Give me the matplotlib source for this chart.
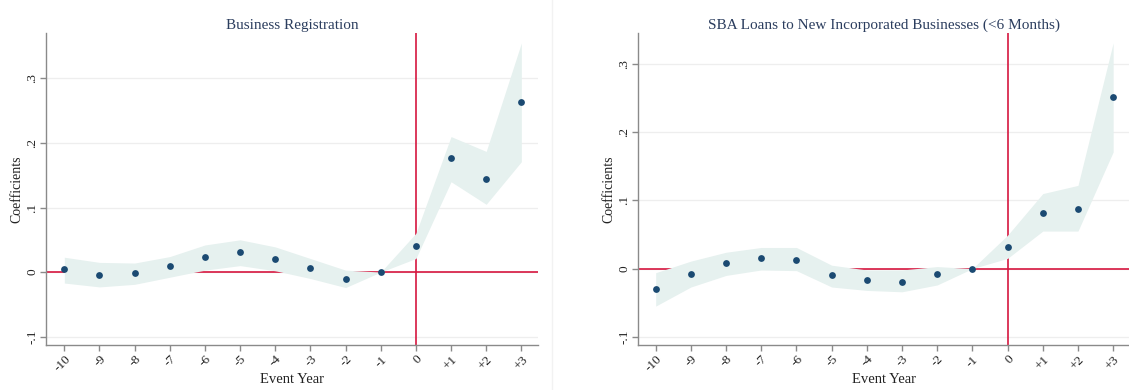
import matplotlib.pyplot as plt
from matplotlib.lines import Line2D

plt.rcParams['font.family'] = ['Liberation Serif', 'DejaVu Serif']

years = list(range(-10, 4))
year_labels = ['-10', '-9', '-8', '-7', '-6', '-5', '-4', '-3', '-2', '-1',
               '0', '+1', '+2', '+3']

# Business registration
reg_coef = [0.004, -0.004, -0.001, 0.009, 0.023, 0.031, 0.020, 0.007,
            -0.010, 0.0, 0.040, 0.177, 0.145, 0.263]
reg_hi = [0.023, 0.015, 0.014, 0.024, 0.042, 0.050, 0.039, 0.021,
          0.003, 0.0, 0.060, 0.210, 0.187, 0.355]
reg_lo = [-0.017, -0.023, -0.019, -0.008, 0.003, 0.010, 0.002, -0.010,
          -0.024, 0.0, 0.021, 0.140, 0.105, 0.171]

# SBA loans to new incorporated businesses
sba_coef = [-0.030, -0.008, 0.008, 0.016, 0.013, -0.010, -0.017, -0.020,
            -0.008, 0.0, 0.032, 0.082, 0.088, 0.251]
sba_hi = [-0.006, 0.011, 0.024, 0.031, 0.031, 0.005, -0.002, -0.002,
          0.003, 0.0, 0.049, 0.110, 0.122, 0.331]
sba_lo = [-0.055, -0.027, -0.010, -0.002, -0.003, -0.027, -0.032, -0.034,
          -0.024, 0.0, 0.015, 0.055, 0.055, 0.171]

yticks = [-0.1, 0, 0.1, 0.2, 0.3]
ytick_labels = ['-.1', '0', '.1', '.2', '.3']

band_col = '#e6f1ef'
dot_col = '#1b4a72'
red = '#d6163f'
title_col = '#2b3d5e'
spine_col = '#8a8a8a'

fig = plt.figure(figsize=(11.29, 3.9), dpi=100)
ax1 = fig.add_axes([0.0411, 0.1154, 0.435, 0.7992])
ax2 = fig.add_axes([0.5655, 0.1154, 0.4345, 0.7992])

panels = [
    (ax1, 'Business Registration', reg_coef, reg_lo, reg_hi,
     (-10.51, 3.46), (-0.113, 0.370)),
    (ax2, 'SBA Loans to New Incorporated Businesses (<6 Months)',
     sba_coef, sba_lo, sba_hi, (-10.49, 3.45), (-0.112, 0.345)),
]

for ax, title, coef, lo, hi, xl, yl in panels:
    for t in yticks:
        ax.axhline(t, color='#eeeeee', lw=0.9, zorder=0)
    ax.axhline(0, color=red, lw=1.2, zorder=1)
    ax.axvline(0, color=red, lw=1.2, zorder=1)
    ax.fill_between(years, lo, hi, color=band_col, lw=0, zorder=2)
    ax.scatter(years, coef, s=24, color=dot_col, zorder=3, lw=0)
    ax.set_xlim(*xl)
    ax.set_ylim(*yl)
    ax.set_xticks(years)
    ax.set_xticklabels(year_labels, rotation=45, ha='right',
                       rotation_mode='anchor', fontsize=9.5)
    ax.set_yticks(yticks)
    ax.set_yticklabels(ytick_labels, rotation=90, va='center', fontsize=9.5)
    ax.tick_params(colors=spine_col, labelcolor='#222222', length=4,
                   width=1, pad=2)
    for s in ['top', 'right']:
        ax.spines[s].set_visible(False)
    for s in ['left', 'bottom']:
        ax.spines[s].set_color(spine_col)
        ax.spines[s].set_linewidth(1)
    ax.set_title(title, fontsize=11, color=title_col, pad=3)
    ax.set_xlabel('Event Year', fontsize=10.5, color='#222222', labelpad=-1)
    ax.set_ylabel('Coefficients', fontsize=10, color='#222222', labelpad=2)

# faint frame of the original panels
fig.add_artist(Line2D([552 / 1129, 552 / 1129], [0, 1], color='#f2f2f2',
                      lw=1))

fig.savefig('out.png', dpi=100)
plt.close('all')
